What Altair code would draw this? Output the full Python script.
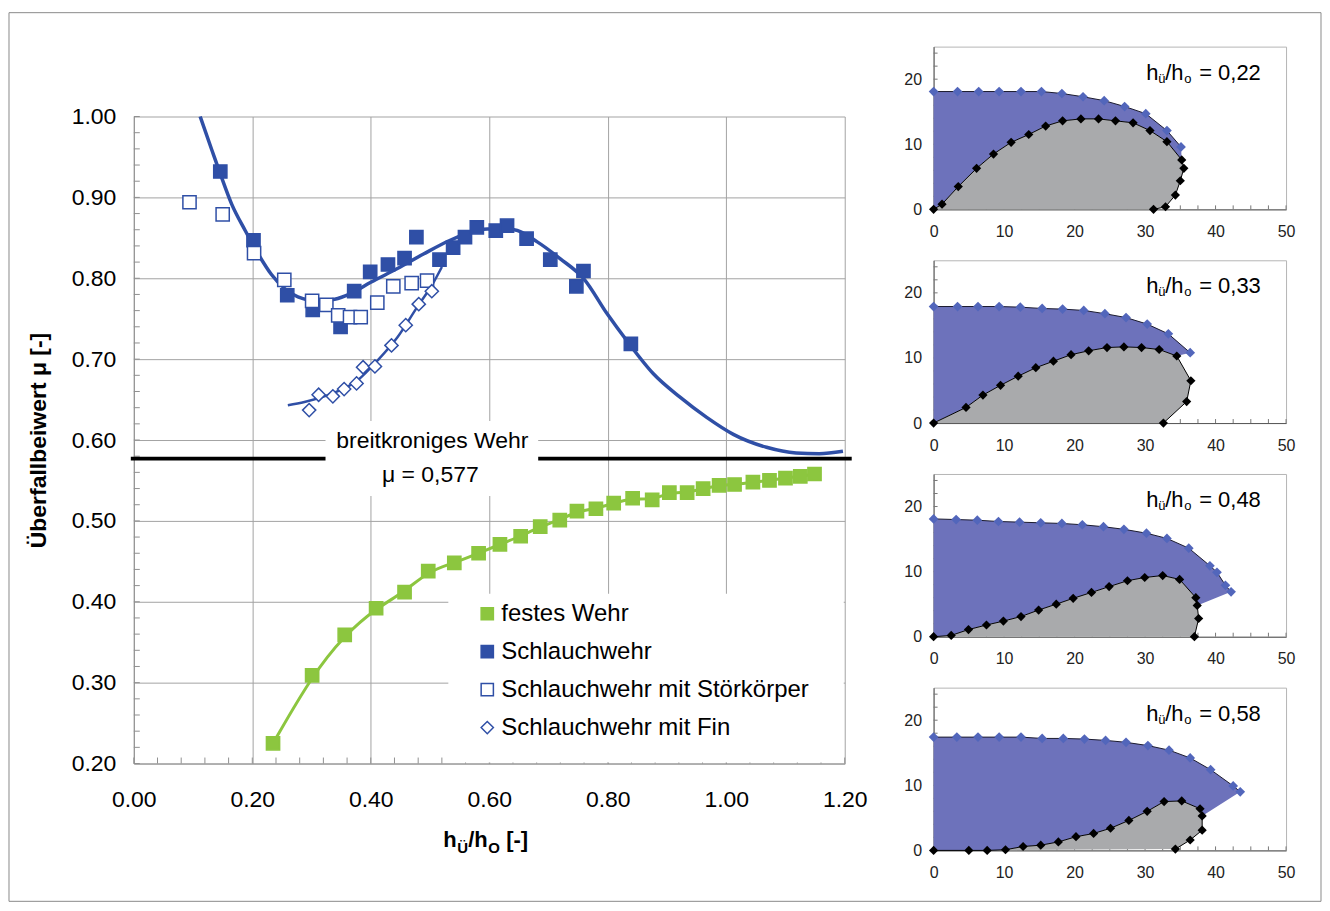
import altair as alt
import pandas as pd

FONT = "Liberation Sans"
BLUE = "#2f4fa6"
GREEN = "#8cc63f"
PBLUE = "#6d72bb"
PGRAY = "#a9aaac"
PDIAM = "#5266bb"
GRID = "#a3a3a3"

# ---------------- main chart data ----------------
fest_x = [0.235, 0.301, 0.356, 0.409, 0.457, 0.497, 0.541, 0.582, 0.618, 0.653, 0.686, 0.719, 0.748, 0.780,
          0.810, 0.842, 0.875, 0.904, 0.934, 0.961, 0.988, 1.014, 1.045, 1.073, 1.100, 1.125, 1.149]
fest_y = [0.225, 0.309, 0.359, 0.392, 0.412, 0.438, 0.448, 0.460, 0.471, 0.481, 0.493, 0.501, 0.512, 0.515,
          0.522, 0.528, 0.526, 0.535, 0.535, 0.540, 0.544, 0.545, 0.548, 0.550, 0.553, 0.555, 0.558]

schl_x = [0.146, 0.202, 0.259, 0.302, 0.349, 0.372, 0.399, 0.429, 0.457, 0.477, 0.516, 0.539, 0.559, 0.579,
          0.611, 0.630, 0.663, 0.703, 0.747, 0.759, 0.839]
schl_y = [0.932, 0.847, 0.779, 0.761, 0.740, 0.784, 0.808, 0.817, 0.825, 0.851, 0.823, 0.838, 0.851, 0.863,
          0.859, 0.865, 0.849, 0.823, 0.790, 0.809, 0.719]

stoer_x = [0.094, 0.150, 0.203, 0.254, 0.301, 0.325, 0.345, 0.365, 0.383, 0.411, 0.438, 0.469, 0.495]
stoer_y = [0.894, 0.879, 0.831, 0.798, 0.772, 0.767, 0.754, 0.752, 0.752, 0.770, 0.790, 0.794, 0.797]

fin_x = [0.296, 0.312, 0.336, 0.355, 0.376, 0.387, 0.407, 0.435, 0.459, 0.481, 0.503]
fin_y = [0.637, 0.656, 0.654, 0.663, 0.670, 0.690, 0.691, 0.717, 0.742, 0.768, 0.784]

# trend curves
schl_fit_x = [0.112, 0.132, 0.146, 0.165, 0.188, 0.210, 0.232, 0.255, 0.277, 0.311, 0.339, 0.366, 0.400,
              0.445, 0.489, 0.534, 0.579, 0.597, 0.642, 0.681, 0.720, 0.760, 0.799, 0.832, 0.877, 0.922,
              0.967, 1.012, 1.068, 1.118, 1.157, 1.197]
schl_fit_y = [1.000, 0.958, 0.929, 0.892, 0.859, 0.830, 0.805, 0.787, 0.777, 0.772, 0.774, 0.781, 0.795,
              0.812, 0.830, 0.847, 0.859, 0.861, 0.860, 0.845, 0.824, 0.799, 0.756, 0.723, 0.682, 0.653,
              0.628, 0.607, 0.591, 0.584, 0.583, 0.586]
fin_fit_x = [0.260, 0.288, 0.333, 0.378, 0.411, 0.445, 0.478, 0.506, 0.520]
fin_fit_y = [0.643, 0.647, 0.657, 0.674, 0.698, 0.727, 0.764, 0.795, 0.814]

mu_broad = 0.577
series = ["festes Wehr", "Schlauchwehr", "Schlauchwehr mit Störkörper", "Schlauchwehr mit Fin"]

x_ticks = [0.0, 0.2, 0.4, 0.6, 0.8, 1.0, 1.2]
y_ticks = [0.2, 0.3, 0.4, 0.5, 0.6, 0.7, 0.8, 0.9, 1.0]

# ---------------- panel data ----------------
panels = [
    dict(label="0,22",
         bx=[0, 3.4, 6.4, 9.3, 12.4, 15.3, 18.2, 21.2, 24.2, 27.1, 30.1, 33.1, 35.1],
         by=[18.1, 18.1, 18.1, 18.1, 18.1, 18.1, 17.8, 17.3, 16.7, 15.8, 14.7, 12.1, 9.6],
         kx=[0, 1.2, 3.5, 6.1, 8.5, 11.0, 13.5, 15.9, 18.3, 20.9, 23.4, 25.8, 28.3, 30.7, 33.1, 35.2, 35.5,
             35.0, 34.3, 32.9, 31.2],
         ky=[0, 0.8, 3.5, 6.3, 8.5, 10.3, 11.5, 12.8, 13.6, 13.9, 13.9, 13.6, 13.3, 12.1, 10.4, 7.6, 6.3,
             4.4, 2.2, 0.4, 0],
         close=15),
    dict(label="0,33",
         bx=[0, 3.4, 6.3, 9.3, 12.3, 15.4, 18.3, 21.3, 24.3, 27.3, 30.3, 33.3, 36.4],
         by=[17.9, 17.9, 17.9, 17.9, 17.8, 17.6, 17.5, 17.3, 16.8, 16.2, 15.2, 13.7, 10.8],
         kx=[0, 4.6, 7.0, 9.5, 12.0, 14.5, 17.0, 19.5, 22.0, 24.6, 27.0, 29.5, 32.0, 34.5, 36.5, 35.9, 32.6],
         ky=[0, 2.4, 4.3, 5.8, 7.2, 8.5, 9.5, 10.5, 11.1, 11.6, 11.7, 11.6, 11.3, 10.3, 6.5, 3.3, 0],
         close=13),
    dict(label="0,48",
         bx=[0, 3.2, 6.2, 9.2, 12.2, 15.2, 18.2, 21.1, 24.1, 27.0, 30.2, 33.1, 36.2, 39.2, 40.2, 41.4, 42.2],
         by=[18.1, 18.0, 17.9, 17.7, 17.6, 17.5, 17.4, 17.2, 16.9, 16.5, 15.9, 15.1, 13.6, 10.9, 9.9, 7.9, 6.9],
         kx=[0, 2.5, 4.95, 7.5, 9.9, 12.4, 14.9, 17.4, 19.8, 22.4, 24.9, 27.5, 29.95, 32.5, 34.9, 37.2, 37.4,
             37.6, 37.0],
         ky=[0, 0.2, 1.1, 1.8, 2.4, 3.1, 4.1, 5.0, 5.9, 6.8, 7.7, 8.6, 9.1, 9.4, 8.8, 6.0, 4.8, 2.8, 0],
         close=16),
    dict(label="0,58",
         bx=[0, 3.3, 6.3, 9.3, 12.4, 15.4, 18.4, 21.4, 24.4, 27.3, 30.4, 33.4, 36.4, 39.3, 42.5, 43.5],
         by=[17.4, 17.4, 17.4, 17.4, 17.4, 17.2, 17.2, 17.1, 16.9, 16.6, 16.1, 15.4, 14.2, 12.4, 9.9, 9.0],
         kx=[0, 5.0, 7.6, 10.2, 12.7, 15.2, 17.7, 20.2, 22.7, 25.1, 27.7, 30.3, 32.7, 35.2, 37.8, 38.1, 38.1,
             36.4, 34.3],
         ky=[0, 0, 0, 0.1, 0.6, 0.8, 1.3, 2.1, 2.6, 3.4, 4.6, 6.0, 7.5, 7.6, 6.4, 5.3, 3.1, 1.6, 0.2],
         close=15),
]

# ---------------- layout constants ----------------
W, H = 712, 648
PW, PH = 353, 163
TOP_GAP = 70


def one():
    return pd.DataFrame({"a": [0]})


def seg(txt, x, y, size, bold=False):
    return alt.Chart(pd.DataFrame({"t": [txt]})).mark_text(
        align="left", baseline="alphabetic", font=FONT, fontSize=size,
        fontWeight="bold" if bold else "normal", color="black"
    ).encode(x=alt.value(x), y=alt.value(y), text="t:N")


# ---------------- main chart ----------------
xs = alt.Scale(domain=[0, 1.2], nice=False, zero=False)
ys = alt.Scale(domain=[0.2, 1.0], nice=False, zero=False)
ax_x = alt.Axis(values=x_ticks, format=".2f", title=None, grid=True, gridColor=GRID, gridWidth=1,
                tickSize=0, labelFont=FONT, labelFontSize=23, labelColor="black", labelPadding=25,
                labelFlush=False, labelOverlap=False, domainColor="#909090")
ax_y = alt.Axis(values=y_ticks, format=".2f", title="Überfallbeiwert μ [-]", grid=True, gridColor=GRID,
                gridWidth=1, tickSize=0, labelFont=FONT, labelFontSize=23, labelColor="black",
                labelPadding=18, labelFlush=False, labelOverlap=False, domainColor="#909090",
                titleFont=FONT, titleFontSize=23, titleFontWeight="bold", titleColor="black",
                titlePadding=21)
X = alt.X("x:Q", scale=xs, axis=ax_x)
Y = alt.Y("y:Q", scale=ys, axis=ax_y)

minor_x = alt.Chart(pd.DataFrame({"x": [round(0.04 * i, 2) for i in range(31)]})).mark_rule(
    color="#909090", strokeWidth=1).encode(x=X, y=alt.value(H), y2=alt.value(H - 6))
minor_y = alt.Chart(pd.DataFrame({"y": [round(0.2 + 0.02 * i, 2) for i in range(41)]})).mark_rule(
    color="#909090", strokeWidth=1).encode(y=Y, x=alt.value(0), x2=alt.value(6))

broad = alt.Chart(pd.DataFrame({"y": [mu_broad]})).mark_rule(color="black", strokeWidth=4).encode(
    y=Y, x=alt.value(-3), x2=alt.value(719))

box_text = alt.Chart(one()).mark_rect(fill="white").encode(
    x=alt.value(192), x2=alt.value(405), y=alt.value(305), y2=alt.value(380))
box_leg = alt.Chart(one()).mark_rect(fill="white").encode(
    x=alt.value(315), x2=alt.value(711), y=alt.value(478), y2=alt.value(647))

green_line = alt.Chart(pd.DataFrame({"x": fest_x, "y": fest_y})).mark_line(
    color=GREEN, strokeWidth=3, interpolate="basis").encode(x=X, y=Y)
fin_line = alt.Chart(pd.DataFrame({"x": fin_fit_x, "y": fin_fit_y})).mark_line(
    color=BLUE, strokeWidth=2.5, interpolate="monotone").encode(x=X, y=Y)
schl_line = alt.Chart(pd.DataFrame({"x": schl_fit_x, "y": schl_fit_y})).mark_line(
    color=BLUE, strokeWidth=3.5, interpolate="monotone").encode(x=X, y=Y)

pts = pd.concat([
    pd.DataFrame({"x": fest_x, "y": fest_y, "s": series[0]}),
    pd.DataFrame({"x": schl_x, "y": schl_y, "s": series[1]}),
    pd.DataFrame({"x": stoer_x, "y": stoer_y, "s": series[2]}),
    pd.DataFrame({"x": fin_x, "y": fin_y, "s": series[3]}),
], ignore_index=True)

# legend coordinates are relative to the left column (spacer + main)
leg = alt.Legend(title=None, orient="none", legendX=342, legendY=486 + TOP_GAP, labelFont=FONT,
                 labelFontSize=24, labelColor="black", symbolSize=150, symbolStrokeWidth=1.5,
                 rowPadding=14, labelOffset=2, padding=0, symbolOpacity=1, labelLimit=0)
points = alt.Chart(pts).mark_point(filled=True, size=175, strokeWidth=1.5, opacity=1).encode(
    x=X, y=Y,
    shape=alt.Shape("s:N", scale=alt.Scale(domain=series, range=["square", "square", "square", "diamond"]),
                    legend=leg),
    fill=alt.Fill("s:N", scale=alt.Scale(domain=series, range=[GREEN, BLUE, "white", "white"]), legend=leg),
    stroke=alt.Stroke("s:N", scale=alt.Scale(domain=series, range=[GREEN, BLUE, BLUE, BLUE]), legend=leg),
)

ann1 = alt.Chart(pd.DataFrame({"t": ["breitkroniges Wehr"]})).mark_text(
    font=FONT, fontSize=23, color="black", align="center", baseline="middle").encode(
    x=alt.value(299), y=alt.value(325), text="t:N")
ann2 = alt.Chart(pd.DataFrame({"t": ["μ = 0,577"]})).mark_text(
    font=FONT, fontSize=23, color="black", align="center", baseline="middle").encode(
    x=alt.value(297), y=alt.value(359), text="t:N")

xtitle = [
    seg("h", 310, 732, 22, True),
    seg("Ü", 324, 738, 15, True),
    seg("/", 335, 732, 22, True),
    seg("h", 341, 732, 22, True),
    seg("O", 355, 738, 15, True),
    seg("[-]", 373, 732, 22, True),
]

border = alt.Chart(one()).mark_rect(fillOpacity=0, stroke="#8a8a8a", strokeWidth=1).encode(
    x=alt.value(-125), x2=alt.value(1189), y=alt.value(-104), y2=alt.value(786))

main = alt.layer(minor_x, minor_y, broad, box_text, box_leg, green_line, fin_line, schl_line, points,
                 ann1, ann2, *xtitle, border).properties(
    width=W, height=H, view=alt.ViewBackground(stroke=None))

spacer = alt.Chart(one()).mark_point(opacity=0).encode(x=alt.value(0), y=alt.value(0)).properties(
    width=W, height=TOP_GAP, view=alt.ViewBackground(stroke=None))


# ---------------- panels ----------------
def panel(p):
    pxs = alt.Scale(domain=[0, 50], nice=False, zero=False)
    pys = alt.Scale(domain=[0, 25], nice=False, zero=False)
    pax = alt.Axis(values=[0, 10, 20, 30, 40, 50], title=None, grid=False, tickSize=0, labelFont=FONT,
                   labelFontSize=16, labelColor="#222", labelPadding=14, labelFlush=False,
                   domainColor="#555")
    pay = alt.Axis(values=[0, 10, 20], title=None, grid=False, tickSize=0, labelFont=FONT,
                   labelFontSize=16, labelColor="#222", labelPadding=12, labelFlush=False,
                   domainColor="#555")
    PX = alt.X("x:Q", scale=pxs, axis=pax)
    PY = alt.Y("y:Q", scale=pys, axis=pay)
    c = p["close"]
    bpx = p["bx"] + p["kx"][c::-1]
    bpy = p["by"] + p["ky"][c::-1]
    blue_poly = pd.DataFrame({"x": bpx, "y": bpy, "i": list(range(len(bpx)))})
    gray_poly = pd.DataFrame({"x": p["kx"], "y": p["ky"], "i": list(range(len(p["kx"])))})
    blue_df = pd.DataFrame({"x": p["bx"], "y": p["by"], "i": list(range(len(p["bx"])))})

    l_blue = alt.Chart(blue_poly).mark_line(fill=PBLUE, strokeOpacity=0).encode(
        x=PX, y=PY, order=alt.Order("i:Q"))
    l_gray = alt.Chart(gray_poly).mark_line(fill=PGRAY, strokeOpacity=0).encode(
        x=PX, y=PY, order=alt.Order("i:Q"))
    o_blue = alt.Chart(blue_df).mark_line(color="#1a1a2e", strokeWidth=1).encode(
        x=PX, y=PY, order=alt.Order("i:Q"))
    o_gray = alt.Chart(gray_poly).mark_line(color="black", strokeWidth=1).encode(
        x=PX, y=PY, order=alt.Order("i:Q"))
    d_blue = alt.Chart(blue_df).mark_point(shape="diamond", filled=True, size=95, color=PDIAM,
                                           opacity=1).encode(x=PX, y=PY)
    d_gray = alt.Chart(gray_poly).mark_point(shape="diamond", filled=True, size=85, color="black",
                                             opacity=1).encode(x=PX, y=PY)
    mx = alt.Chart(pd.DataFrame({"x": [2.5 * i for i in range(21)]})).mark_rule(
        color="#777", strokeWidth=1).encode(x=PX, y=alt.value(PH), y2=alt.value(PH - 4))
    my = alt.Chart(pd.DataFrame({"y": [2 * i for i in range(13)]})).mark_rule(
        color="#777", strokeWidth=1).encode(y=PY, x=alt.value(0), x2=alt.value(4))
    title = [
        seg("h", 213, 33, 22),
        seg("ü", 225, 36, 13),
        seg("/", 232, 33, 22),
        seg("h", 238, 33, 22),
        seg("o", 251, 36, 13),
        seg("= " + p["label"], 266, 33, 22),
    ]
    return alt.layer(mx, my, l_blue, l_gray, o_blue, o_gray, d_blue, d_gray, *title).properties(
        width=PW, height=PH, view=alt.ViewBackground(stroke="#b5b5b5"))


left = alt.vconcat(spacer, main, spacing=0, bounds="flush")
right = alt.vconcat(*[panel(p) for p in panels], spacing=51, bounds="flush")
# with flush bounds the nested left column counts as zero width, so the spacing is the full offset
chart = alt.hconcat(left, right, spacing=801, bounds="flush").properties(
    padding={"left": 0, "top": 3, "right": 0, "bottom": 0}, background="white")

chart.save("out.html", embed_options={"renderer": "svg", "actions": False})
